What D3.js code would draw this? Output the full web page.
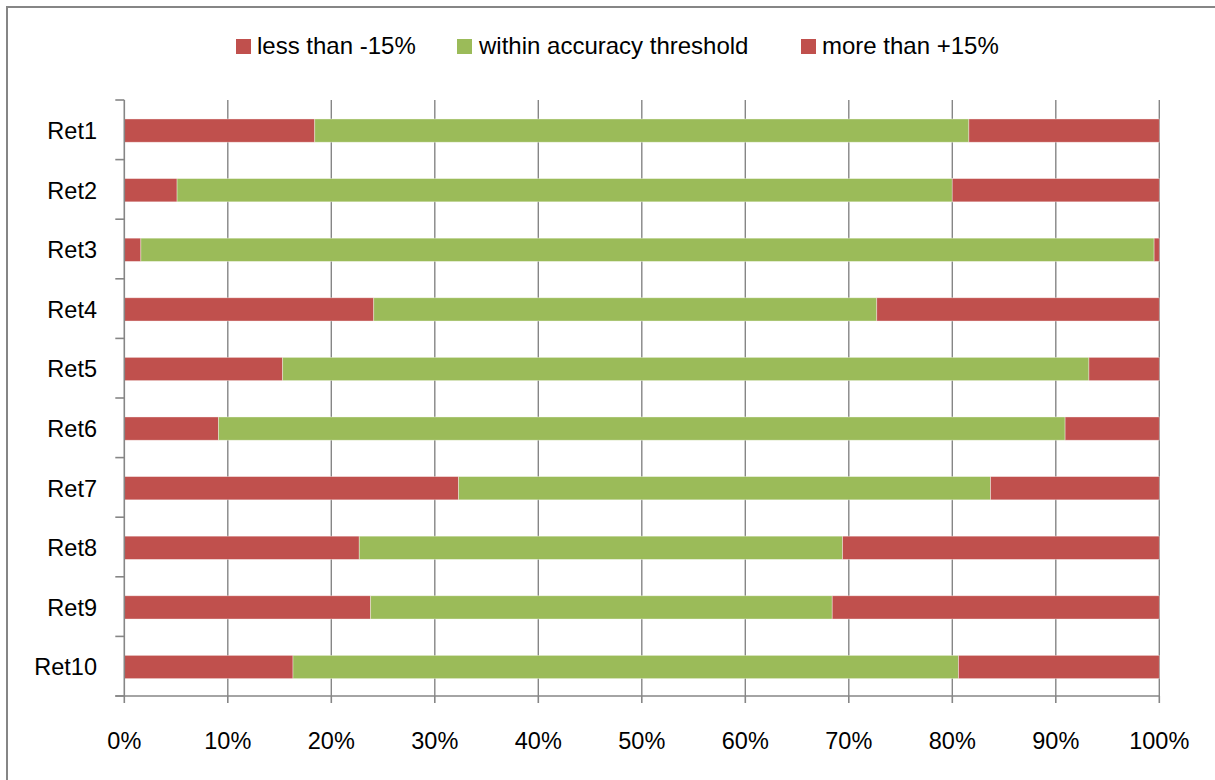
<!DOCTYPE html>
<html>
<head>
<meta charset="utf-8">
<script src="https://cdn.jsdelivr.net/npm/d3@7"></script>
<style>
  html, body { margin: 0; padding: 0; background: #fff; }
  svg { display: block; font-family: "Liberation Sans", Arial, sans-serif; }
</style>
</head>
<body>
<svg id="chart" width="1215" height="780"></svg>
<script>
// Share of estimates per retailer falling below, within and above the ±15% band
const categories = ["Ret1", "Ret2", "Ret3", "Ret4", "Ret5", "Ret6", "Ret7", "Ret8", "Ret9", "Ret10"];
const lessThan   = [18.4,  5.1,  1.6, 24.1, 15.3,  9.1, 32.3, 22.7, 23.8, 16.3];
const within     = [63.2, 74.9, 97.9, 48.6, 77.9, 81.8, 51.4, 46.7, 44.6, 64.3];
const moreThan   = [18.4, 20.0,  0.5, 27.3,  6.8,  9.1, 16.3, 30.6, 31.6, 19.4];
const seriesNames = ["less than -15%", "within accuracy threshold", "more than +15%"];
const tickValues = [0, 0.1, 0.2, 0.3, 0.4, 0.5, 0.6, 0.7, 0.8, 0.9, 1.0];

const colors = ["#C0504D", "#9BBB59", "#C0504D"];
const axisColor = "#868686";
const fontSize = 23.5;

const svg = d3.select("#chart");

// Outer chart frame (only top and left edges fall inside the view)
svg.append("rect")
  .attr("x", 7).attr("y", 7)
  .attr("width", 1240).attr("height", 800)
  .attr("fill", "none")
  .attr("stroke", axisColor)
  .attr("stroke-width", 2);

const plot = { left: 124.3, right: 1159.3, top: 100, bottom: 696 };

const x = d3.scaleLinear().domain([0, 1]).range([plot.left, plot.right]);
const y = d3.scaleBand().domain(categories).range([plot.top, plot.bottom]).paddingInner(0.61).paddingOuter(0.305);

// Build stacked rows from the series arrays
const rows = categories.map((c, i) => {
  const vals = [lessThan[i], within[i], moreThan[i]];
  const total = d3.sum(vals);
  return { cat: c, less: lessThan[i] / total, within: within[i] / total, more: moreThan[i] / total };
});
const stack = d3.stack().keys(["less", "within", "more"]);
const stacked = stack(rows);

// Vertical gridlines
svg.append("g")
  .selectAll("line")
  .data(tickValues.slice(1))
  .join("line")
  .attr("x1", d => x(d)).attr("x2", d => x(d))
  .attr("y1", plot.top).attr("y2", plot.bottom)
  .attr("stroke", axisColor)
  .attr("stroke-width", 1.4);

// Bars
svg.append("g")
  .selectAll("g")
  .data(stacked)
  .join("g")
  .attr("fill", (d, i) => colors[i])
  .selectAll("rect")
  .data(d => d)
  .join("rect")
  .attr("x", d => x(d[0]))
  .attr("y", d => y(d.data.cat) + 0.8)
  .attr("width", d => Math.max(0, x(d[1]) - x(d[0])))
  .attr("height", y.bandwidth())
  .attr("stroke", "#ffffff")
  .attr("stroke-opacity", 0.45)
  .attr("stroke-width", 0.8);

// Left (category) axis: line, boundary ticks and labels
const yAxis = svg.append("g");
yAxis.append("line")
  .attr("x1", plot.left).attr("x2", plot.left)
  .attr("y1", plot.top).attr("y2", plot.bottom)
  .attr("stroke", axisColor).attr("stroke-width", 1.6);
const boundaries = d3.range(categories.length + 1).map(i => plot.top + i * y.step());
yAxis.selectAll("line.tick")
  .data(boundaries)
  .join("line")
  .attr("class", "tick")
  .attr("x1", plot.left - 9).attr("x2", plot.left)
  .attr("y1", d => d).attr("y2", d => d)
  .attr("stroke", axisColor).attr("stroke-width", 1.6);
yAxis.selectAll("text")
  .data(categories)
  .join("text")
  .attr("x", 97)
  .attr("y", d => y(d) + y.bandwidth() / 2 + 0.8)
  .attr("dy", "0.36em")
  .attr("text-anchor", "end")
  .attr("font-size", fontSize)
  .attr("fill", "#000")
  .text(d => d);

// Bottom (percentage) axis
const xAxis = svg.append("g");
xAxis.append("line")
  .attr("x1", plot.left - 9).attr("x2", plot.right)
  .attr("y1", plot.bottom).attr("y2", plot.bottom)
  .attr("stroke", axisColor).attr("stroke-width", 1.6);
xAxis.selectAll("line.tick")
  .data(tickValues)
  .join("line")
  .attr("class", "tick")
  .attr("x1", d => x(d)).attr("x2", d => x(d))
  .attr("y1", plot.bottom).attr("y2", plot.bottom + 7)
  .attr("stroke", axisColor).attr("stroke-width", 1.6);
const pct = d3.format(".0%");
xAxis.selectAll("text")
  .data(tickValues)
  .join("text")
  .attr("x", d => x(d))
  .attr("y", 749)
  .attr("text-anchor", "middle")
  .attr("font-size", fontSize)
  .attr("fill", "#000")
  .text(d => pct(d));

// Legend
const legendPos = [{ sx: 236, tx: 257 }, { sx: 457, tx: 479 }, { sx: 801, tx: 822 }];
const legend = svg.append("g");
const items = legend.selectAll("g")
  .data(seriesNames)
  .join("g");
items.append("rect")
  .attr("x", (d, i) => legendPos[i].sx)
  .attr("y", 39)
  .attr("width", 15)
  .attr("height", 15)
  .attr("fill", (d, i) => colors[i]);
items.append("text")
  .attr("x", (d, i) => legendPos[i].tx)
  .attr("y", 54)
  .attr("font-size", 24)
  .attr("fill", "#000")
  .text(d => d);
</script>
</body>
</html>
